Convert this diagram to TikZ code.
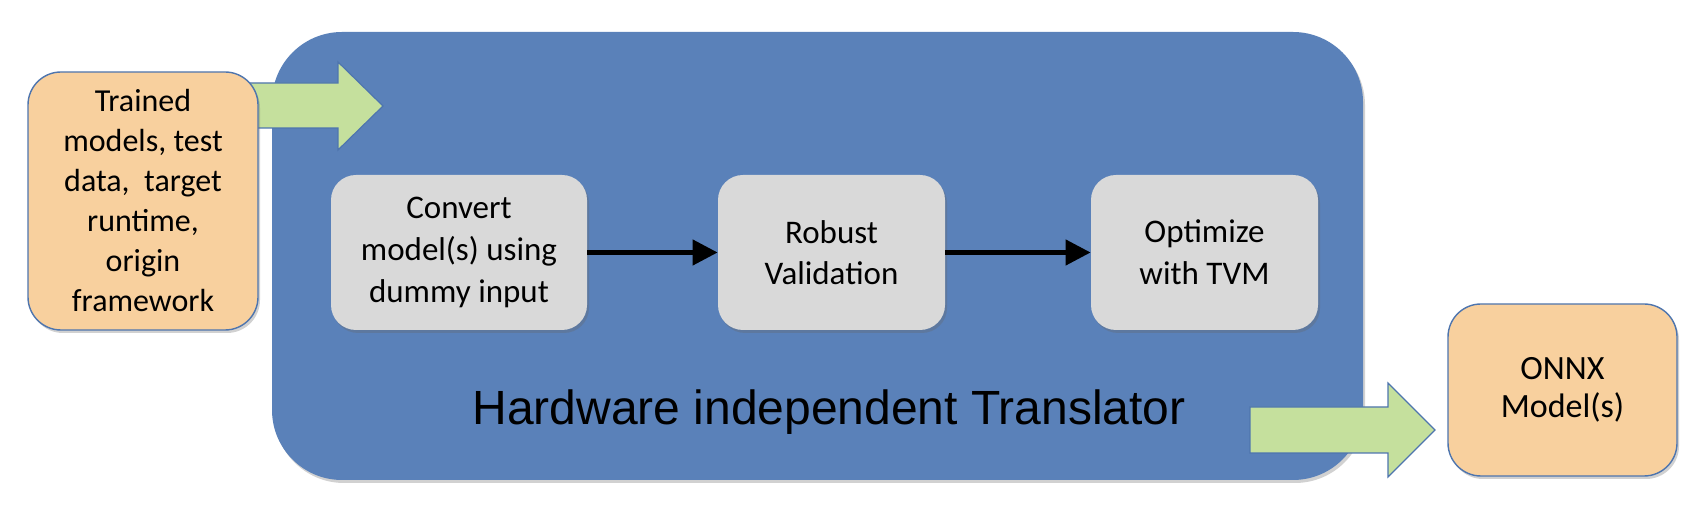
\documentclass[tikz,border=0pt]{standalone}
\usepackage{fontspec}
\setmainfont{Carlito}
\newfontfamily\titlefont{Liberation Sans}
\usetikzlibrary{shadows,arrows.meta}
\definecolor{bluebg}{HTML}{5A81B9}
\definecolor{orangefill}{HTML}{F8D09E}
\definecolor{grayfill}{HTML}{D9D9D9}
\definecolor{greenfill}{HTML}{C5E09D}
\definecolor{edgeblue}{HTML}{4E75AE}
\begin{document}
\begin{tikzpicture}[x=0.5pt,y=-0.5pt,
  softshadow/.style={drop shadow={shadow xshift=1pt,shadow yshift=-1.5pt,opacity=0.3,fill=black!60}},
  orangebox/.style={draw=edgeblue, line width=0.7pt, fill=orangefill, rounded corners=16.5pt,
    align=center, font=\fontsize{16}{20}\selectfont, inner sep=0pt, softshadow},
  graybox/.style={fill=grayfill, rounded corners=12.5pt, minimum width=113.5pt, minimum height=77.5pt,
    align=center, font=\fontsize{16.5}{20.8}\selectfont, inner sep=0pt, softshadow},
  bigbox/.style={fill=bluebg, rounded corners=35pt, inner sep=0pt, softshadow},
  greenarrow/.style={fill=greenfill, draw=edgeblue, line width=0.6pt, line join=miter},
  flow/.style={line width=2.25pt, -{Triangle[length=12.5pt,width=12.5pt]}}
]
\useasboundingbox (0,0) rectangle (1698,522);
% big translator box
\node[bigbox, minimum width=545.5pt, minimum height=224pt] (big) at (817.5,256) {};
% input arrow
\draw[greenarrow] (250,83) -- (338,83) -- (338,62) -- (383,106) -- (338,150) -- (338,128) -- (250,128) -- cycle;
% input box
\node[orangebox, minimum width=115pt, minimum height=129pt] (in) at (143,201)
  {Trained\\models, test\\data,\ \ target\\runtime,\\origin\\framework};
% process boxes
\node[graybox, minimum width=128pt] (conv) at (459,252.5) {Convert\\model(s) using\\dummy input};
\node[graybox] (val) at (831.5,252.5) {Robust\\Validation};
\node[graybox] (opt) at (1204.5,252.5) {Optimize\\with TVM};
\draw[flow] (conv.east) -- (val.west);
\draw[flow] (val.east) -- (opt.west);
% title
\node[font=\titlefont\fontsize{24}{28}\selectfont, inner sep=0pt] (title) at (829,412) {Hardware independent Translator};
% output arrow
\draw[greenarrow] (1250,407) -- (1388,407) -- (1388,383) -- (1435,430) -- (1388,477) -- (1388,453) -- (1250,453) -- cycle;
% output box
\node[orangebox, minimum width=114.5pt, minimum height=86pt, font=\fontsize{17}{19}\selectfont] (out) at (1562.5,390) {ONNX\\Model(s)};
\end{tikzpicture}
\end{document}
